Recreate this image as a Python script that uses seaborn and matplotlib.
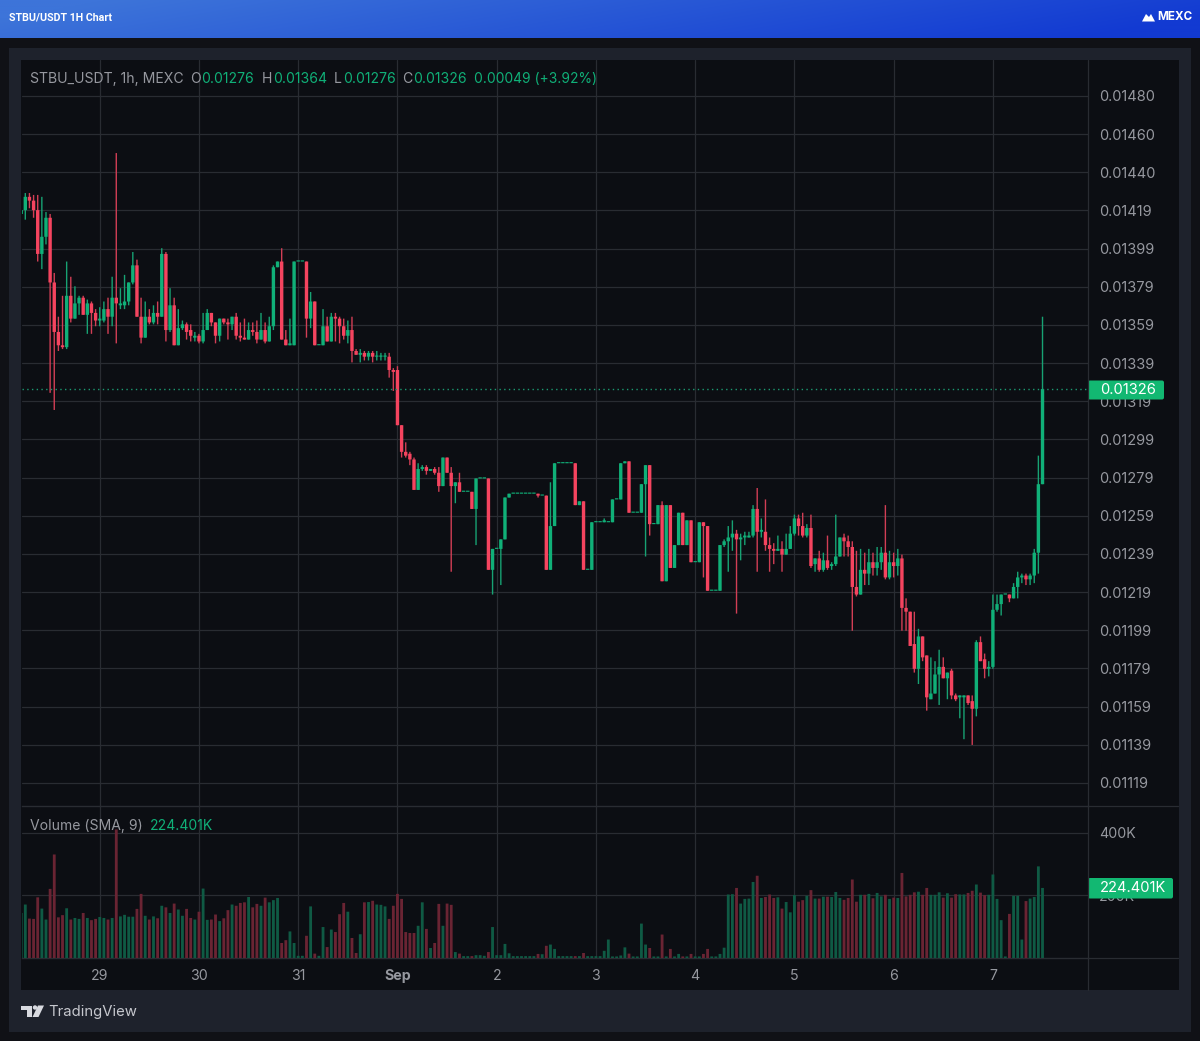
"""
plot.py - STBU/USDT 1H candlestick chart with volume pane
"""

import numpy as np
import pandas as pd
import matplotlib
matplotlib.use("Agg")
import matplotlib.pyplot as plt
from matplotlib.patches import FancyBboxPatch, Polygon, Rectangle
import seaborn as sns

# ─────────────────────────────────────────────
# DATA (prices in units of 0.00001, volume in thousands)
# ─────────────────────────────────────────────
OPENS = [
    1418, 1420, 1427, 1425, 1420, 1397, 1406, 1416, 1382, 1356,
    1349, 1348, 1375, 1363, 1371, 1374, 1365, 1371, 1366, 1362,
    1362, 1368, 1364, 1374, 1370, 1370, 1372, 1382, 1391, 1364,
    1353, 1364, 1361, 1366, 1364, 1397, 1357, 1370, 1349, 1358,
    1360, 1357, 1353, 1354, 1351, 1357, 1366, 1361, 1354, 1363,
    1361, 1360, 1364, 1354, 1353, 1352, 1357, 1356, 1352, 1357,
    1351, 1359, 1390, 1393, 1352, 1349, 1349, 1393, 1393, 1393,
    1363, 1372, 1349, 1349, 1359, 1351, 1364, 1363, 1359, 1354,
    1357, 1346, 1344, 1345, 1343, 1345, 1343, 1343, 1343, 1343,
    1336, 1336, 1307, 1293, 1292, 1289, 1273, 1284, 1285, 1283,
    1284, 1282, 1275, 1290, 1282, 1275, 1277, 1272, 1272, 1272,
    1263, 1279, 1279, 1279, 1231, 1242, 1242, 1247, 1269, 1271,
    1271, 1271, 1271, 1271, 1271, 1271, 1270, 1270, 1231, 1254,
    1287, 1287, 1287, 1287, 1287, 1265, 1267, 1231, 1231, 1256,
    1256, 1256, 1256, 1256, 1268, 1268, 1287, 1288, 1261, 1261,
    1261, 1276, 1286, 1255, 1255, 1265, 1225, 1265, 1232, 1244,
    1261, 1244, 1257, 1235, 1235, 1256, 1254, 1220, 1220, 1220,
    1244, 1246, 1248, 1250, 1247, 1248, 1248, 1249, 1263, 1251,
    1251, 1244, 1242, 1241, 1242, 1239, 1242, 1250, 1258, 1254,
    1249, 1253, 1234, 1237, 1231, 1236, 1233, 1234, 1238, 1248,
    1246, 1243, 1222, 1218, 1231, 1229, 1235, 1232, 1235, 1240,
    1227, 1235, 1233, 1237, 1211, 1209, 1192, 1179, 1196, 1186,
    1163, 1166, 1176, 1180, 1174, 1178, 1165, 1164, 1164, 1165,
    1162, 1158, 1193, 1184, 1179, 1180, 1210, 1213, 1218, 1218,
    1216, 1222, 1227, 1228, 1226, 1228, 1240, 1276,
]
HIGHS = [
    1427, 1429, 1429, 1428, 1428, 1427, 1419, 1418, 1387, 1364,
    1375, 1393, 1385, 1380, 1375, 1375, 1373, 1372, 1368, 1369,
    1372, 1374, 1385, 1450, 1379, 1386, 1382, 1398, 1394, 1374,
    1372, 1368, 1370, 1372, 1400, 1398, 1379, 1374, 1368, 1362,
    1361, 1360, 1356, 1355, 1366, 1368, 1366, 1361, 1363, 1363,
    1363, 1364, 1366, 1361, 1363, 1361, 1361, 1362, 1366, 1361,
    1364, 1391, 1393, 1400, 1357, 1363, 1393, 1393, 1393, 1393,
    1377, 1372, 1349, 1368, 1364, 1366, 1366, 1364, 1363, 1362,
    1364, 1347, 1347, 1346, 1346, 1346, 1346, 1345, 1345, 1345,
    1337, 1338, 1307, 1298, 1293, 1290, 1287, 1286, 1286, 1284,
    1285, 1285, 1290, 1290, 1285, 1277, 1282, 1272, 1272, 1272,
    1279, 1279, 1279, 1279, 1242, 1242, 1247, 1269, 1271, 1271,
    1271, 1271, 1271, 1271, 1271, 1271, 1270, 1270, 1277, 1287,
    1287, 1287, 1287, 1287, 1287, 1267, 1267, 1231, 1256, 1256,
    1256, 1258, 1256, 1268, 1268, 1287, 1288, 1288, 1261, 1261,
    1276, 1286, 1286, 1255, 1265, 1267, 1265, 1265, 1244, 1261,
    1261, 1257, 1257, 1235, 1256, 1256, 1254, 1220, 1220, 1244,
    1247, 1254, 1257, 1252, 1250, 1251, 1251, 1265, 1274, 1258,
    1268, 1248, 1245, 1249, 1246, 1250, 1254, 1260, 1260, 1261,
    1255, 1260, 1237, 1241, 1240, 1249, 1235, 1260, 1248, 1250,
    1249, 1246, 1241, 1242, 1240, 1242, 1240, 1243, 1243, 1265,
    1241, 1240, 1242, 1239, 1216, 1209, 1209, 1200, 1196, 1186,
    1185, 1183, 1189, 1185, 1177, 1179, 1166, 1165, 1165, 1165,
    1165, 1194, 1196, 1187, 1183, 1218, 1218, 1218, 1218, 1218,
    1224, 1230, 1229, 1229, 1229, 1242, 1291, 1364,
]
LOWS = [
    1410, 1415, 1421, 1416, 1393, 1389, 1402, 1324, 1315, 1346,
    1347, 1347, 1361, 1363, 1365, 1365, 1355, 1355, 1359, 1359,
    1361, 1355, 1359, 1350, 1368, 1368, 1370, 1381, 1364, 1350,
    1353, 1360, 1360, 1360, 1364, 1351, 1356, 1349, 1349, 1357,
    1352, 1351, 1351, 1350, 1350, 1357, 1359, 1350, 1351, 1360,
    1352, 1357, 1352, 1351, 1352, 1352, 1354, 1350, 1352, 1350,
    1351, 1357, 1390, 1352, 1349, 1349, 1349, 1393, 1393, 1353,
    1358, 1349, 1349, 1349, 1351, 1351, 1351, 1350, 1352, 1350,
    1340, 1344, 1340, 1341, 1341, 1340, 1341, 1341, 1341, 1332,
    1325, 1307, 1290, 1290, 1286, 1273, 1273, 1283, 1281, 1283,
    1281, 1272, 1275, 1282, 1230, 1266, 1272, 1272, 1272, 1263,
    1244, 1279, 1279, 1231, 1218, 1242, 1223, 1247, 1269, 1271,
    1271, 1271, 1271, 1271, 1271, 1269, 1270, 1231, 1231, 1254,
    1287, 1287, 1287, 1287, 1265, 1265, 1231, 1231, 1231, 1256,
    1256, 1256, 1256, 1256, 1268, 1268, 1287, 1261, 1261, 1261,
    1261, 1238, 1249, 1255, 1255, 1225, 1225, 1232, 1232, 1244,
    1244, 1244, 1235, 1235, 1235, 1227, 1220, 1220, 1220, 1220,
    1243, 1230, 1241, 1208, 1236, 1244, 1248, 1248, 1230, 1248,
    1241, 1230, 1234, 1241, 1230, 1239, 1242, 1249, 1249, 1248,
    1248, 1232, 1230, 1230, 1230, 1231, 1231, 1233, 1238, 1238,
    1238, 1199, 1217, 1218, 1223, 1223, 1228, 1228, 1231, 1226,
    1226, 1227, 1228, 1199, 1199, 1191, 1177, 1171, 1183, 1157,
    1163, 1166, 1160, 1174, 1163, 1163, 1162, 1153, 1142, 1160,
    1139, 1154, 1183, 1174, 1175, 1179, 1209, 1207, 1218, 1214,
    1216, 1216, 1224, 1223, 1223, 1224, 1229, 1276,
]
CLOSES = [
    1420, 1427, 1425, 1420, 1397, 1406, 1416, 1382, 1356, 1349,
    1348, 1375, 1363, 1371, 1374, 1365, 1371, 1366, 1362, 1363,
    1368, 1364, 1374, 1371, 1371, 1372, 1382, 1391, 1364, 1353,
    1364, 1361, 1366, 1364, 1397, 1357, 1370, 1349, 1358, 1360,
    1356, 1354, 1354, 1351, 1357, 1366, 1361, 1354, 1363, 1361,
    1360, 1364, 1354, 1353, 1352, 1357, 1356, 1352, 1357, 1351,
    1359, 1390, 1393, 1352, 1349, 1350, 1393, 1393, 1393, 1363,
    1372, 1349, 1349, 1359, 1351, 1364, 1363, 1359, 1354, 1357,
    1346, 1344, 1345, 1343, 1345, 1343, 1343, 1343, 1343, 1336,
    1335, 1307, 1293, 1291, 1289, 1273, 1284, 1285, 1283, 1284,
    1282, 1275, 1290, 1282, 1275, 1277, 1272, 1272, 1272, 1263,
    1279, 1279, 1279, 1231, 1242, 1242, 1247, 1269, 1271, 1271,
    1271, 1271, 1271, 1271, 1271, 1270, 1270, 1231, 1254, 1287,
    1287, 1287, 1287, 1287, 1265, 1267, 1231, 1231, 1256, 1256,
    1256, 1257, 1256, 1268, 1268, 1287, 1288, 1261, 1261, 1261,
    1276, 1286, 1255, 1255, 1265, 1225, 1265, 1232, 1244, 1261,
    1244, 1257, 1235, 1235, 1256, 1254, 1220, 1220, 1220, 1244,
    1246, 1248, 1250, 1247, 1248, 1249, 1249, 1263, 1251, 1252,
    1244, 1242, 1241, 1242, 1239, 1242, 1250, 1258, 1254, 1249,
    1253, 1233, 1237, 1231, 1236, 1232, 1234, 1238, 1248, 1246,
    1243, 1222, 1218, 1231, 1229, 1235, 1232, 1235, 1240, 1227,
    1235, 1233, 1237, 1211, 1209, 1191, 1179, 1196, 1185, 1164,
    1166, 1176, 1180, 1174, 1177, 1165, 1163, 1165, 1165, 1161,
    1158, 1193, 1183, 1179, 1180, 1210, 1213, 1218, 1218, 1216,
    1222, 1227, 1228, 1226, 1228, 1240, 1276, 1326,
]
VOLUMES = [
    144, 171, 126, 125, 194, 158, 123, 221, 331, 130,
    137, 159, 123, 128, 125, 144, 128, 121, 125, 131,
    128, 123, 128, 411, 133, 138, 132, 132, 157, 205,
    135, 123, 133, 127, 167, 162, 144, 174, 155, 135,
    157, 128, 123, 148, 222, 122, 123, 139, 118, 127,
    153, 171, 167, 176, 178, 195, 162, 173, 167, 193,
    178, 185, 192, 48, 57, 85, 48, 7, 7, 71,
    165, 14, 7, 99, 35, 91, 83, 140, 176, 148,
    64, 16, 76, 178, 179, 183, 171, 170, 165, 125,
    167, 205, 189, 83, 80, 80, 103, 178, 93, 32,
    48, 173, 103, 174, 170, 19, 14, 6, 6, 6,
    9, 9, 7, 19, 99, 9, 9, 45, 15, 6,
    6, 6, 6, 6, 6, 13, 12, 39, 43, 29,
    6, 6, 6, 6, 6, 6, 16, 6, 6, 6,
    6, 23, 59, 5, 5, 8, 34, 14, 5, 5,
    110, 43, 32, 5, 5, 75, 5, 29, 5, 13,
    5, 5, 13, 5, 5, 13, 29, 5, 5, 13,
    33, 203, 204, 224, 174, 189, 190, 243, 263, 192,
    195, 203, 192, 194, 158, 179, 146, 201, 180, 185,
    199, 217, 190, 190, 196, 196, 195, 211, 192, 186,
    192, 251, 180, 202, 202, 205, 191, 208, 197, 202,
    189, 193, 192, 272, 197, 202, 210, 212, 202, 224,
    202, 202, 210, 193, 207, 193, 204, 203, 203, 208,
    215, 235, 209, 201, 202, 267, 189, 121, 5, 141,
    199, 199, 59, 182, 190, 195, 293, 224,
]

PRICE_LABELS = [
    "0.01480", "0.01460", "0.01440", "0.01419", "0.01399", "0.01379", "0.01359",
    "0.01339", "0.01319", "0.01299", "0.01279", "0.01259", "0.01239", "0.01219",
    "0.01199", "0.01179", "0.01159", "0.01139", "0.01119",
]
DAY_LABELS = ["29", "30", "31", "Sep", "2", "3", "4", "5", "6", "7"]
DAY_CANDLES = [19, 43, 67, 91, 115, 139, 163, 187, 211, 235]  # candle at 00:00 of each day
VOLUME_TICKS = [200, 400]
VOLUME_LABELS = ["200K", "400K"]

LAST_PRICE = 1326
LAST_VOLUME = 224.401

# ─────────────────────────────────────────────
# COLOURS
# ─────────────────────────────────────────────
UP = "#10b078"
DOWN = "#f5445f"
UP_WICK = "#17a273"
DOWN_WICK = "#d23e55"
UP_VOL = "#0f5a44"
DOWN_VOL = "#6a2433"
PAGE = "#101116"
PANEL = "#1e222c"
CHART = "#0c0e13"
GRID = "#292c32"
TEXT = "#96989f"
PILL = "#12b872"
W, H = 1200, 1041


def px_axes(fig, left, top, right, bottom):
    # axes placed by pixel box of the final image
    return fig.add_axes([left / W, 1 - bottom / H, (right - left) / W, (bottom - top) / H])


sns.set_theme(style="dark")
plt.rcParams["font.family"] = ["Inter", "DejaVu Sans"]

fig = plt.figure(figsize=(W / 100, H / 100), dpi=100, facecolor=PAGE)

# ─────────────────────────────────────────────
# BACKGROUND: header, panel, chart area
# ─────────────────────────────────────────────
bg = fig.add_axes([0, 0, 1, 1], zorder=0)
bg.set_xlim(0, W)
bg.set_ylim(H, 0)
bg.axis("off")
bg.add_patch(Rectangle((0, 0), W, H, color=PAGE, lw=0))
bg.add_patch(Rectangle((9, 48), 1182, 984, color=PANEL, lw=0))
bg.add_patch(Rectangle((21, 60), 1157.5, 930, color=CHART, lw=0))

xx = np.linspace(0, 1, 600)
yy = np.linspace(0, 1, 40)
gx, gy = np.meshgrid(xx, yy)
mix = np.clip(gx + 0.18 * (gy - 0.5), 0, 1)[..., None]
left_col = np.array([0x3d, 0x74, 0xd9]) / 255
right_col = np.array([0x12, 0x3a, 0xd2]) / 255
bg.imshow(left_col * (1 - mix) + right_col * mix, extent=(0, W, 38, 0), aspect="auto", zorder=2)
bg.set_xlim(0, W)
bg.set_ylim(H, 0)

# ─────────────────────────────────────────────
# PRICE PANE
# ─────────────────────────────────────────────
opens = np.array(OPENS, dtype=float)
highs = np.array(HIGHS, dtype=float)
lows = np.array(LOWS, dtype=float)
closes = np.array(CLOSES, dtype=float)
candle = np.arange(len(opens))
rising = closes >= opens

X_MIN, X_MAX = 0.2, 258.0

ax = px_axes(fig, 22, 60, 1088, 806)
ax.set_zorder(1)
ax.patch.set_alpha(0)
ax.set_xlim(X_MIN, X_MAX)
ax.set_ylim(1106.9, 1498.9)

# wicks and bodies left unsnapped, bars stay even at about 4 px per candle
for mask, wick_col, body_col in [(rising, UP_WICK, UP), (~rising, DOWN_WICK, DOWN)]:
    wicks = ax.vlines(candle[mask], lows[mask], highs[mask], color=wick_col, lw=1.0, zorder=3)
    wicks.set_snap(False)
    heights = np.maximum(np.abs(closes - opens), 0.6)[mask]
    bars = ax.bar(candle[mask], heights, bottom=np.minimum(opens, closes)[mask],
                  width=0.82, color=body_col, lw=0, zorder=4)
    for patch in bars:
        patch.set_snap(False)

ax.axhline(LAST_PRICE, color="#1c9a72", lw=1.0, ls=(0, (1, 2.4)), zorder=5)

price_ticks = np.linspace(1480, 1119, len(PRICE_LABELS))
ax.set_yticks(price_ticks)
ax.set_yticklabels(PRICE_LABELS)
ax.yaxis.tick_right()
ax.tick_params(axis="y", length=0, pad=8.0, labelsize=10.5, labelcolor=TEXT)
ax.set_xticks(DAY_CANDLES)
ax.tick_params(axis="x", length=0, labelbottom=False)
ax.grid(True, color=GRID, lw=0.9)
ax.set_axisbelow(True)
sns.despine(ax=ax, left=True, right=True, top=True, bottom=False)
ax.spines["bottom"].set_color(GRID)
ax.spines["bottom"].set_linewidth(1.0)

# ─────────────────────────────────────────────
# VOLUME PANE
# ─────────────────────────────────────────────
vol_df = pd.DataFrame({
    "candle": candle,
    "volume": VOLUMES,
    "direction": np.where(rising, "up", "down"),
})

ax_vol = px_axes(fig, 22, 806, 1088, 958)
ax_vol.set_zorder(1)
ax_vol.patch.set_alpha(0)
sns.barplot(
    data=vol_df, x="candle", y="volume", hue="direction",
    palette={"up": UP_VOL, "down": DOWN_VOL},
    dodge=False, native_scale=True, width=0.68, saturation=1,
    legend=False, linewidth=0, ax=ax_vol, zorder=3,
)
for patch in ax_vol.patches:
    patch.set_snap(False)
ax_vol.set_xlim(X_MIN, X_MAX)
ax_vol.set_ylim(0, 486)
ax_vol.set_xlabel("")
ax_vol.set_ylabel("")
ax_vol.set_yticks(VOLUME_TICKS)
ax_vol.set_yticklabels(VOLUME_LABELS)
ax_vol.yaxis.tick_right()
ax_vol.tick_params(axis="y", length=0, pad=8.0, labelsize=10.2, labelcolor=TEXT)
ax_vol.set_xticks(DAY_CANDLES)
ax_vol.set_xticklabels(DAY_LABELS)
ax_vol.tick_params(axis="x", length=0, pad=8.2, labelsize=10.2, labelcolor=TEXT)
for lab in ax_vol.get_xticklabels():
    if lab.get_text() == "Sep":
        lab.set_fontweight("bold")
ax_vol.grid(True, color=GRID, lw=0.9)
ax_vol.set_axisbelow(True)
sns.despine(ax=ax_vol, left=True, right=True, top=True, bottom=False)
ax_vol.spines["bottom"].set_color(GRID)
ax_vol.spines["bottom"].set_linewidth(1.0)

# ─────────────────────────────────────────────
# OVERLAY: text, price pills, logos
# ─────────────────────────────────────────────
top = fig.add_axes([0, 0, 1, 1], zorder=5)
top.set_xlim(0, W)
top.set_ylim(H, 0)
top.axis("off")
top.patch.set_alpha(0)

# scale separators
top.plot([1088, 1088], [60, 990], color=GRID, lw=0.9)
top.plot([1088, 1178], [958, 958], color=GRID, lw=0.9)
top.plot([1088, 1178], [806, 806], color=GRID, lw=0.9)

# header
top.text(9, 17.5, "STBU/USDT 1H Chart", color="white", fontsize=7.7, fontweight="bold",
         family=["Roboto", "DejaVu Sans"], va="center")
top.add_patch(Polygon([(1142, 21.5), (1146, 14), (1149, 17), (1151, 14), (1155, 21.5)],
                      closed=True, color="white", lw=0))
top.text(1157, 17.5, "MEXC", color="white", fontsize=8.4, fontweight="bold", va="center")

# legend row
y_row = 79
fs = 10.1
top.text(30, y_row, "STBU_USDT, 1h, MEXC", color=TEXT, fontsize=fs, va="center")
for x, letter, val in [(190, "O", "0.01276"), (262, "H", "0.01364"),
                       (334, "L", "0.01276"), (402, "C", "0.01326")]:
    top.text(x, y_row, letter, color=TEXT, fontsize=fs, va="center")
    top.text(x + (11 if letter != "L" else 9), y_row, val, color=UP, fontsize=fs, va="center")
top.text(474, y_row, "0.00049 (+3.92%)", color=UP, fontsize=fs - 0.15, va="center")

top.text(30, 826, "Volume (SMA, 9)", color=TEXT, fontsize=fs, va="center")
top.text(150, 826, "224.401K", color=UP, fontsize=fs, va="center")

# last price and last volume pills
top.add_patch(FancyBboxPatch((1088, 380.5), 76, 19, boxstyle="round,pad=0,rounding_size=2",
                             color=PILL, lw=0))
top.text(1100, 390.5, f"0.0{LAST_PRICE}", color="white", fontsize=10.6, va="center")
top.add_patch(FancyBboxPatch((1088, 878), 85, 20.5, boxstyle="round,pad=0,rounding_size=2",
                             color=PILL, lw=0))
top.text(1100, 888.5, f"{LAST_VOLUME}K", color="white", fontsize=10.6, va="center")

# TradingView mark
top.add_patch(Polygon([(21, 1005.5), (31.5, 1005.5), (31.5, 1017), (26.5, 1017), (26.5, 1010), (21, 1010)],
                      closed=True, color="#d8dae0", lw=0))
top.add_patch(Polygon([(38, 1005.5), (44, 1005.5), (38.5, 1017), (32.5, 1017)],
                      closed=True, color="#d8dae0", lw=0))
top.add_patch(plt.Circle((35, 1007.5), 2.2, color="#d8dae0", lw=0))
top.text(48, 1012, "TradingView", color="#c6c8ce", fontsize=10.7, va="center")

fig.savefig("out.png", dpi=100, facecolor=PAGE)
